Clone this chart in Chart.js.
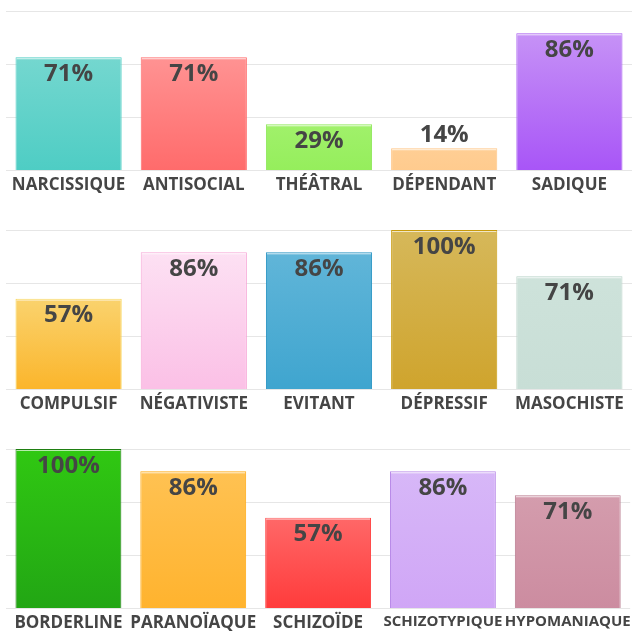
<!DOCTYPE html>
<html>
<head>
<meta charset="utf-8">
<script src="https://cdn.jsdelivr.net/npm/chart.js@4.4.0/dist/chart.umd.min.js"></script>
<style>
  html, body { margin: 0; padding: 0; background: #fff; overflow: hidden; }
  .row { position: relative; width: 635px; height: 219px; }
</style>
</head>
<body>
<div class="row"><canvas id="c1"></canvas></div>
<div class="row"><canvas id="c2"></canvas></div>
<div class="row"><canvas id="c3"></canvas></div>
<script>
const labels1 = ['NARCISSIQUE', 'ANTISOCIAL', 'THÉÂTRAL', 'DÉPENDANT', 'SADIQUE'];
const values1 = [71, 71, 29, 14, 86];
const labels2 = ['COMPULSIF', 'NÉGATIVISTE', 'EVITANT', 'DÉPRESSIF', 'MASOCHISTE'];
const values2 = [57, 86, 86, 100, 71];
const labels3 = ['BORDERLINE', 'PARANOÏAQUE', 'SCHIZOÏDE', 'SCHIZOTYPIQUE', 'HYPOMANIAQUE'];
const values3 = [100, 86, 57, 86, 71];

// [top, bottom, border]
const colors1 = [
    ['#84dbd4', '#4ecdc4', '#4ecdc4'],
    ['#ffa3a3', '#ff6b6b', '#ff6b6b'],
    ['#bdf88f', '#95ee5c', '#8ee85a'],
    ['#ffe2bc', '#ffcb8e', '#ffc585'],
    ['#cb9cf6', '#a855f7', '#a65af0']
];
const colors2 = [
    ['#f9e9a0', '#fbb52b', '#f7d34a'],
    ['#fde6f5', '#fbc0e6', '#f7a6d6'],
    ['#66b8da', '#3fa5cf', '#2592c2'],
    ['#d6b85a', '#cfa42d', '#c89b0c'],
    ['#d0e4dc', '#c8ded6', '#b9d3c8']
];
const colors3 = [
    ['#30c812', '#22a614', '#1f7f12'],
    ['#ffc458', '#ffb32e', '#ffa80e'],
    ['#ff8a8a', '#ff3b3b', '#ff4b4b'],
    ['#d8baf8', '#d0a6f6', '#b98be8'],
    ['#d7a3b2', '#cc8ca0', '#b87a8e']
];

const fontFamily = "'Open Sans', sans-serif";
const textColor = '#454545';

const labelPlugin = {
    id: 'barLabels',
    afterDatasetsDraw: (chart) => {
        const { ctx } = chart;
        const meta = chart.getDatasetMeta(0);
        const data = chart.data.datasets[0].data;
        ctx.save();
        meta.data.forEach((bar, i) => {
            const h = bar.base - bar.y;
            // highlight line just under the top border
            ctx.strokeStyle = 'rgba(255,255,255,0.65)';
            ctx.lineWidth = 1;
            ctx.beginPath();
            ctx.moveTo(bar.x - bar.width / 2 + 1, bar.y + 1.5);
            ctx.lineTo(bar.x + bar.width / 2 - 1, bar.y + 1.5);
            ctx.stroke();

            ctx.fillStyle = textColor;
            ctx.font = 'bold 24px ' + fontFamily;
            ctx.textAlign = 'center';
            ctx.textBaseline = 'middle';
            const y = h > 34 ? bar.y + 17 : bar.y - 13;
            ctx.fillText(data[i] + '%', bar.x, y);
        });
        ctx.restore();
    }
};

const createBarChart = (canvasId, labels, values, colors) => {
    const ctx = document.getElementById(canvasId).getContext('2d');
    return new Chart(ctx, {
        type: 'bar',
        data: {
            labels: labels,
            datasets: [{
                data: values,
                backgroundColor: (context) => {
                    const chart = context.chart;
                    const area = chart.chartArea;
                    if (!area) return colors[context.dataIndex][1];
                    const g = chart.ctx.createLinearGradient(0, area.top, 0, area.bottom);
                    g.addColorStop(0, colors[context.dataIndex][0]);
                    g.addColorStop(1, colors[context.dataIndex][1]);
                    return g;
                },
                borderColor: colors.map(c => c[2]),
                borderWidth: 1,
                barPercentage: 0.848,
                categoryPercentage: 1
            }]
        },
        options: {
            responsive: true,
            maintainAspectRatio: false,
            animation: false,
            layout: {
                padding: { top: 11, left: 6, right: 3, bottom: 20 }
            },
            plugins: {
                legend: { display: false },
                tooltip: { enabled: false }
            },
            scales: {
                x: {
                    grid: { display: false, drawTicks: false },
                    border: { display: false },
                    ticks: {
                        autoSkip: false,
                        maxRotation: 0,
                        minRotation: 0,
                        padding: 4,
                        color: textColor,
                        font: (c) => ({
                            family: fontFamily,
                            weight: 'bold',
                            size: labels[c.index] && labels[c.index].length > 11 ? 15 : 17
                        })
                    }
                },
                y: {
                    min: 0,
                    max: 100,
                    grid: { color: '#e6e6e6', lineWidth: 1, drawTicks: false },
                    border: { display: false },
                    ticks: { display: false, count: 4 }
                }
            }
        },
        plugins: [labelPlugin]
    });
};

createBarChart('c1', labels1, values1, colors1);
createBarChart('c2', labels2, values2, colors2);
createBarChart('c3', labels3, values3, colors3);
</script>
</body>
</html>
